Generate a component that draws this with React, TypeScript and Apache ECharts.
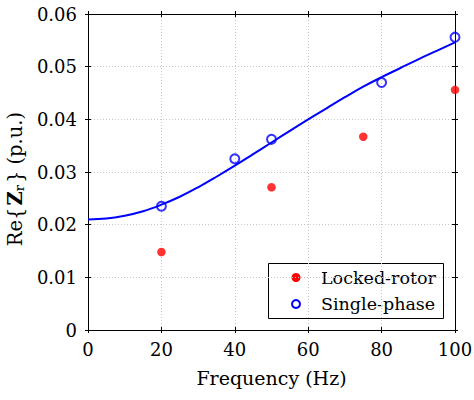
import React, { useEffect, useRef } from "react";
import * as echarts from "echarts";

const xMin = 0;
const xMax = 100;
const xInterval = 20;
const yMin = 0;
const yMax = 0.06;
const yInterval = 0.01;

const seriesNames = ["Locked-rotor", "Single-phase"];

const lockedRotorFreq = [20, 50, 75, 100];
const lockedRotorRe = [0.0148, 0.0271, 0.0367, 0.0456];

const singlePhaseFreq = [20, 40, 50, 80, 100];
const singlePhaseRe = [0.0235, 0.0325, 0.0362, 0.047, 0.0556];

const fitFreq = [0, 5, 10, 15, 20, 25, 30, 35, 40, 45, 50, 55, 60, 65, 70, 75, 80, 85, 90, 95, 100];
const fitRe = [
  0.021, 0.02115, 0.0217, 0.02255, 0.0238, 0.0253, 0.0271, 0.0291, 0.0312, 0.0334, 0.0356,
  0.0378, 0.04, 0.0421, 0.0442, 0.0462, 0.048, 0.0497, 0.0514, 0.053, 0.0546,
];

const FONT = "DejaVu Serif";
const RED = "#ff0000";
const BLUE = "#0000ff";

function pairs(xs: number[], ys: number[]) {
  return xs.map((x, i) => [x, ys[i]]);
}

export default function App() {
  const ref = useRef<HTMLDivElement>(null);

  useEffect(() => {
    if (!ref.current) return;
    const chart = echarts.init(ref.current, undefined, { renderer: "svg" });

    const xBase = { type: "value" as const, min: xMin, max: xMax, interval: xInterval, gridIndex: 0 };
    const yBase = { type: "value" as const, min: yMin, max: yMax, interval: yInterval, gridIndex: 0 };
    const tickLine = { color: "#000", width: 1 };

    const mkAxis = (base: any, position: string, main: boolean, inside: boolean) => ({
      ...base,
      position,
      axisLine: { show: main, onZero: false, lineStyle: { color: "#000", width: 1 } },
      axisTick: { show: true, inside, length: 3, lineStyle: tickLine },
      axisLabel: { show: false },
      splitLine: { show: false },
    });

    // legend box
    const lgX = 268;
    const lgY = 263;
    const lgW = 175;
    const lgH = 55;
    const iconX = 296;
    const textX = 321;
    const row1 = 277.5;
    const row2 = 304;
    const legendTextStyle = {
      font: '17.5px "DejaVu Serif"',
      fontFamily: FONT,
      fontSize: 17.5,
      fill: "#000",
      verticalAlign: "middle" as const,
      align: "left" as const,
    };

    chart.setOption({
      animation: false,
      backgroundColor: "#fff",
      textStyle: { fontFamily: FONT, color: "#000" },
      grid: { left: 88, right: 19, top: 14, bottom: 70, containLabel: false, outerBoundsMode: "none" },
      xAxis: [
        {
          ...xBase,
          position: "bottom",
          name: "Frequency (Hz)",
          nameLocation: "middle",
          nameGap: 38,
          nameTextStyle: { fontFamily: FONT, fontSize: 19, color: "#000" },
          axisLine: { show: true, onZero: false, lineStyle: { color: "#000", width: 1 } },
          axisTick: { show: true, inside: true, length: 3, lineStyle: tickLine },
          axisLabel: { show: true, margin: 10, fontFamily: FONT, fontSize: 18, color: "#000" },
          splitLine: { show: true, lineStyle: { color: "#c8c8c8", type: [1, 2], width: 1 } },
        },
        mkAxis(xBase, "bottom", false, false),
        mkAxis(xBase, "top", true, true),
        mkAxis(xBase, "top", false, false),
      ],
      yAxis: [
        {
          ...yBase,
          position: "left",
          name: "{n|Re{}{b|Z}{sub|r}} (p.u.)",
          nameLocation: "middle",
          nameGap: 60,
          nameRotate: 90,
          nameTextStyle: {
            fontFamily: FONT,
            fontSize: 19.5,
            lineHeight: 22,
            color: "#000",
            padding: [0, 14, 0, 0],
            rich: {
              n: { fontFamily: FONT, fontSize: 19.5, lineHeight: 22, color: "#000" },
              b: { fontFamily: FONT, fontSize: 19.5, lineHeight: 22, fontWeight: "bold", color: "#000", padding: [0, 0, 0, 2] },
              sub: { fontFamily: FONT, fontSize: 13, lineHeight: 12, verticalAlign: "bottom", color: "#000", padding: [0, 2, 0, 0] },
            },
          },
          axisLine: { show: true, onZero: false, lineStyle: { color: "#000", width: 1 } },
          axisTick: { show: true, inside: true, length: 3, lineStyle: tickLine },
          axisLabel: { show: true, margin: 11, fontFamily: FONT, fontSize: 18, color: "#000" },
          splitLine: { show: true, lineStyle: { color: "#c8c8c8", type: [1, 2], width: 1 } },
        },
        mkAxis(yBase, "left", false, false),
        mkAxis(yBase, "right", true, true),
        mkAxis(yBase, "right", false, false),
      ],
      graphic: [
        {
          type: "group",
          z: 100,
          children: [
            {
              type: "rect",
              shape: { x: lgX + 0.5, y: lgY + 0.5, width: lgW, height: lgH },
              style: { fill: "#fff", stroke: "#000", lineWidth: 1 },
            },
            {
              type: "circle",
              shape: { cx: iconX, cy: row1, r: 4.5 },
              style: { fill: RED },
            },
            {
              type: "circle",
              shape: { cx: iconX, cy: row2, r: 4 },
              style: { fill: "none", stroke: BLUE, lineWidth: 2 },
            },
            { type: "text", x: textX, y: row1, style: { ...legendTextStyle, text: seriesNames[0] } },
            { type: "text", x: textX, y: row2, style: { ...legendTextStyle, text: seriesNames[1] } },
          ],
        },
      ],
      series: [
        {
          name: "fit",
          type: "line",
          xAxisIndex: 0,
          yAxisIndex: 0,
          data: pairs(fitFreq, fitRe),
          smooth: 0.4,
          showSymbol: false,
          symbol: "none",
          lineStyle: { color: BLUE, width: 2 },
          z: 2,
        },
        {
          name: seriesNames[0],
          type: "scatter",
          xAxisIndex: 0,
          yAxisIndex: 0,
          data: pairs(lockedRotorFreq, lockedRotorRe),
          symbol: "circle",
          symbolSize: 8.5,
          itemStyle: { color: RED },
          z: 3,
        },
        {
          name: seriesNames[1],
          type: "scatter",
          xAxisIndex: 0,
          yAxisIndex: 0,
          data: pairs(singlePhaseFreq, singlePhaseRe),
          symbol: "circle",
          symbolSize: 9,
          itemStyle: { color: "rgba(255,255,255,0)", borderColor: BLUE, borderWidth: 2 },
          z: 3,
        },
      ],
    });

    return () => chart.dispose();
  }, []);

  return (
    <div
      ref={ref}
      style={{ position: "fixed", left: 0, top: 0, width: 474, height: 400, background: "#fff" }}
    />
  );
}
